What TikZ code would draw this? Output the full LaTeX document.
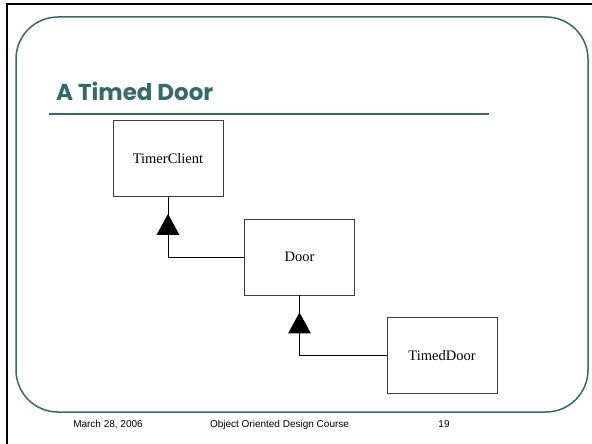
\documentclass[tikz,border=0pt]{standalone}
\usepackage{fontspec}
\setmainfont{Liberation Serif}
\setsansfont{Liberation Sans}
\newfontfamily\headfont{Poppins}
\usetikzlibrary{calc}
\definecolor{slateteal}{RGB}{52,106,106}
\definecolor{boxline}{RGB}{60,60,60}
\tikzset{
  classbox/.style={draw=boxline, line width=0.9pt, fill=white,
    minimum width=110pt, minimum height=76pt, inner sep=0pt,
    font=\fontsize{14.5}{16}\selectfont},
  inherit/.style={draw=black, line width=0.9pt},
  headmark/.style={fill=black},
  footer/.style={font=\sffamily\fontsize{10}{12}\selectfont, anchor=base},
}
\begin{document}
\begin{tikzpicture}[x=1pt, y=-1pt]
  \useasboundingbox (0,0) rectangle (592,444);
  % page edges
  \draw[line width=2pt] (6.5,444) -- (6.5,4) -- (592,4);
  % slide frame
  \draw[slateteal, line width=1.5pt, rounded corners=42pt] (16,17) rectangle (588,412);
  % heading and rule
  \node[anchor=base west, inner sep=0pt, text=slateteal,
        font=\headfont\bfseries\fontsize{23}{26}\selectfont] (title) at (56,100) {A Timed Door};
  \draw[slateteal, line width=2pt] (49,114) -- (489,114);

  % classes
  \node[classbox] (tc) at (168,158.5) {TimerClient};
  \node[classbox] (door) at (299.5,257) {Door};
  \node[classbox] (td) at (442,355.5) {TimedDoor};

  % generalisations
  \draw[inherit] (door.west) -| (tc.south);
  \fill[headmark] ($(tc.south)+(0,17)$) -- ++(-11.5,21) -- ++(23,0) -- cycle;
  \draw[inherit] (td.west) -| (door.south);
  \fill[headmark] ($(door.south)+(0,17)$) -- ++(-11.5,21) -- ++(23,0) -- cycle;

  % footer
  \node[footer] (date) at (108,427) {March 28, 2006};
  \node[footer] (course) at (279.5,427) {Object Oriented Design Course};
  \node[footer] (page) at (444,427) {19};
\end{tikzpicture}
\end{document}
